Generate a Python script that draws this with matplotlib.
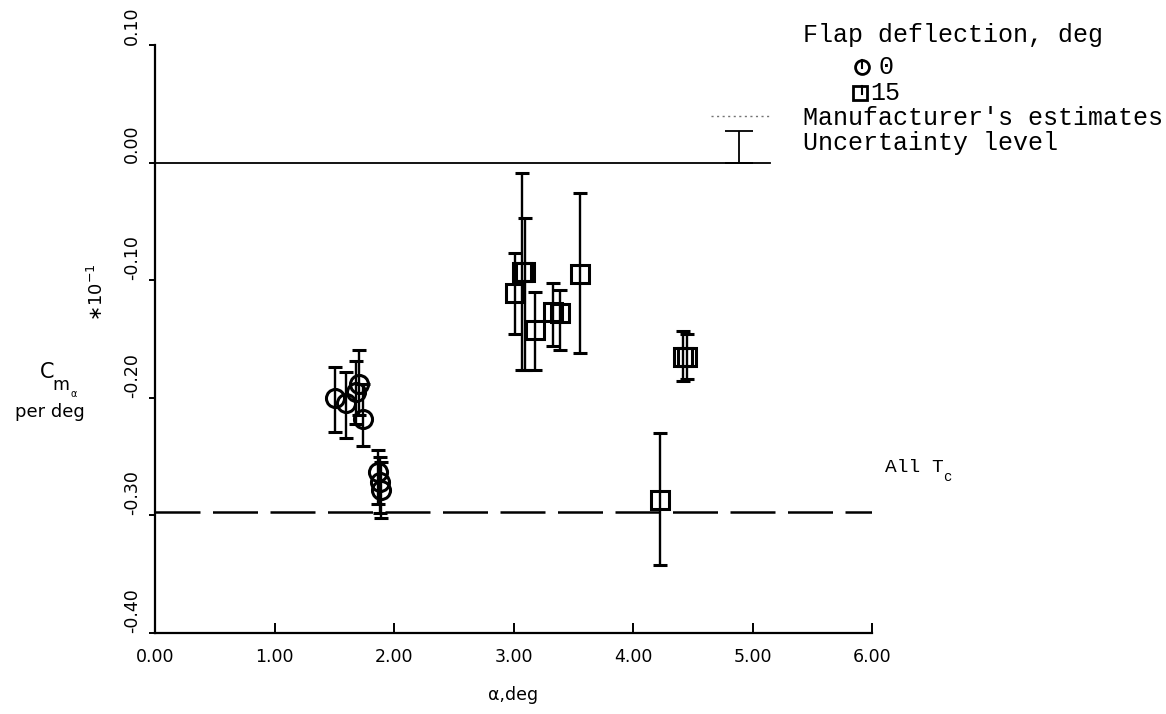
#Pitching moment slope vs angle of attack

import numpy as np
import matplotlib
matplotlib.use("Agg")
import matplotlib.pyplot as plt

#Flap deflection 0 deg runs
alpha_f0 = [1.51, 1.60, 1.68, 1.71, 1.74, 1.87, 1.88, 1.89]
cma_f0 = [-0.200, -0.204, -0.195, -0.188, -0.218, -0.263, -0.272, -0.278]
cma_f0_hi = [-0.174, -0.178, -0.169, -0.159, -0.188, -0.244, -0.250, -0.255]
cma_f0_lo = [-0.229, -0.234, -0.222, -0.215, -0.241, -0.290, -0.298, -0.302]

#Flap deflection 15 deg runs
alpha_f15 = [3.01, 3.07, 3.10, 3.18, 3.33, 3.39, 3.56, 4.23, 4.42, 4.45]
cma_f15 = [-0.111, -0.093, -0.093, -0.142, -0.127, -0.128, -0.095, -0.287, -0.165, -0.165]
cma_f15_hi = [-0.077, -0.009, -0.047, -0.110, -0.102, -0.108, -0.026, -0.230, -0.143, -0.146]
cma_f15_lo = [-0.146, -0.176, -0.176, -0.176, -0.156, -0.159, -0.162, -0.342, -0.186, -0.184]

cma_all_tc = -0.297		#Fairing through all thrust coefficients
manuf_est = 0.040		#Manufacturer's estimate
uncertainty = 0.027		#Uncertainty level

xticks = [0, 1, 2, 3, 4, 5, 6]
xtick_labels = ['0.00', '1.00', '2.00', '3.00', '4.00', '5.00', '6.00']
yticks = [0.1, 0.0, -0.1, -0.2, -0.3, -0.4]
ytick_labels = ['0.10', '0.00', '-0.10', '-0.20', '-0.30', '-0.40']

W, H = 1166, 714
mono = 'Liberation Mono'
plot_font = 'DejaVu Sans'

def px(x, y):
	#pixel position -> figure fraction
	return x / W, 1 - y / H

def asym_err(val, hi, lo):
	val = np.array(val)
	return [val - np.array(lo), np.array(hi) - val]

fig = plt.figure(figsize=(W / 100, H / 100), dpi=100)
ax = fig.add_axes([155 / W, 1 - 633 / H, (872 - 155) / W, (633 - 45) / H])

ax.set_xlim(0, 6)
ax.set_ylim(-0.4, 0.1)
for s in ['top', 'right']:
	ax.spines[s].set_visible(False)
for s in ['left', 'bottom']:
	ax.spines[s].set_linewidth(1.6)

ax.set_xticks(xticks)
ax.set_xticklabels(xtick_labels, family=plot_font, fontsize=12.5)
ax.set_yticks(yticks)
ax.set_yticklabels(ytick_labels, family=plot_font, fontsize=12.5, rotation=90,
				   rotation_mode='anchor', ha='left', va='bottom')
ax.tick_params(axis='x', direction='in', length=7, width=1.4, pad=11)
ax.tick_params(axis='y', direction='out', length=4, width=1.4, pad=6)

#Reference lines
ax.plot([0, 5.15], [0, 0], color='black', lw=1.3)
ax.plot([0, 6], [cma_all_tc, cma_all_tc], color='black', lw=1.8, dashes=(18, 5))
ax.plot([4.65, 5.15], [manuf_est, manuf_est], color='0.45', lw=1, linestyle=(0, (1.5, 2.5)))
ax.errorbar([4.89], [0], yerr=[[0], [uncertainty]], fmt='none', ecolor='black',
			elinewidth=1.3, capsize=10, capthick=1.3)

#Data with error bars
ax.errorbar(alpha_f0, cma_f0, yerr=asym_err(cma_f0, cma_f0_hi, cma_f0_lo), fmt='o',
			mfc='none', mec='black', ms=13, mew=2.2, ecolor='black', elinewidth=1.7,
			capsize=5, capthick=2)
ax.errorbar(alpha_f15, cma_f15, yerr=asym_err(cma_f15, cma_f15_hi, cma_f15_lo), fmt='s',
			mfc='none', mec='black', ms=13, mew=2.2, ecolor='black', elinewidth=1.7,
			capsize=5, capthick=2)

ax.set_xlabel('\u03b1,deg', family=plot_font, fontsize=12.5, labelpad=14)

#Axis label on the left
fig.text(*px(47, 372), 'C', family=plot_font, fontsize=15, ha='center', va='center')
fig.text(*px(61, 385), 'm', family=plot_font, fontsize=12.5, ha='center', va='center')
fig.text(*px(74, 394), '\u03b1', family=plot_font, fontsize=7, ha='center', va='center')
fig.text(*px(50, 412), 'per deg', family=plot_font, fontsize=13, ha='center', va='center')
fig.text(*px(97, 292), r'$\ast10^{-1}$', fontsize=13, ha='center', va='center', rotation=90)

#Key
fig.text(*px(803, 35), 'Flap deflection, deg', family=mono, fontsize=18, va='center')
fig.text(*px(878, 67), '0', family=mono, fontsize=18, va='center')
fig.text(*px(870, 93), '15', family=mono, fontsize=18, va='center')
fig.text(*px(803, 118), "Manufacturer's estimates", family=mono, fontsize=18, va='center')
fig.text(*px(803, 143), 'Uncertainty level', family=mono, fontsize=18, va='center')
ax.plot(*px(862, 67), marker='o', ms=10, mfc='none', mec='black', mew=2,
		transform=fig.transFigure, clip_on=False)
ax.plot(*px(860, 93), marker='s', ms=10, mfc='none', mec='black', mew=2,
		transform=fig.transFigure, clip_on=False)
for yy in (67, 93):
	x0, y0 = px(862, yy - 7)
	x1, y1 = px(862, yy + 1)
	ax.plot([x0, x1], [y0, y1], color='black', lw=1.5, transform=fig.transFigure, clip_on=False)

fig.text(*px(885, 467), 'All T', family=mono, fontsize=14, va='center')
fig.text(*px(943, 477), 'c', family=mono, fontsize=10, va='center')

fig.savefig('out.png', dpi=100)
